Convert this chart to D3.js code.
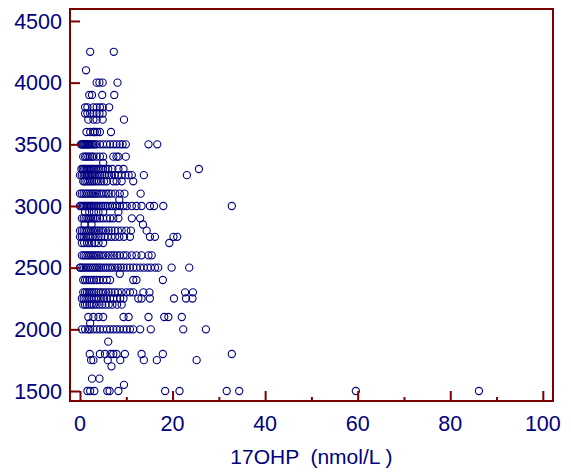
<!DOCTYPE html>
<html>
<head>
<meta charset="utf-8">
<script src="https://cdn.jsdelivr.net/npm/d3@7"></script>
<style>
  body { margin: 0; background: #fff; }
  svg { display: block; }
  text { font-family: "Liberation Sans", Arial, sans-serif; }
</style>
</head>
<body>
<div id="chart"></div>
<script>
let width = 571;
let height = 473;
let frame = ({top: 9, right: 553, bottom: 401, left: 70});
let axisColor = "#7a0000";
let inkColor = "#000080";

// birth weight levels (g) and the 17OHP readings (nmol/L) found on each level
let weights = [4250, 4100, 4000, 3900, 3800, 3750, 3700, 3600, 3500, 3400,
    3350, 3300, 3250, 3200, 3100, 3050, 3000, 2950, 2900, 2850,
    2800, 2750, 2700, 2600, 2500, 2450, 2400, 2300, 2250, 2200,
    2100, 2050, 2000, 1900, 1800, 1750, 1700, 1600, 1550, 1500];

let ohp = [
    [2.2, 7.3],
    [1.3],
    [3.6, 4.2, 4.9, 8.1],
    [2.0, 2.6, 4.8, 7.4],
    [1.1, 1.6, 2.9, 3.6, 4.3, 4.9, 6.3],
    [1.1, 1.6, 2.2, 2.9, 3.6, 4.2, 4.9],
    [1.8, 2.9, 3.6, 4.9, 9.5],
    [1.4, 2.2, 2.9, 3.2, 3.7, 4.3, 6.7],
    [0.2, 0.4, 0.6, 0.8, 1.0, 1.2, 1.4, 1.6, 1.8, 2.0, 2.3, 2.6, 2.9, 3.2, 3.6, 4.3, 5.0, 5.8, 6.5, 7.2, 7.9, 8.6, 9.2, 9.9, 14.8, 16.7],
    [0.7, 1.1, 1.4, 1.8, 2.2, 2.6, 2.9, 3.6, 4.3, 5.0, 7.2, 7.9, 8.3, 9.9],
    [5.0],
    [0.3, 0.6, 0.9, 1.2, 1.5, 1.8, 2.1, 2.4, 2.7, 3.0, 3.4, 3.8, 4.2, 4.6, 5.0, 5.5, 6.1, 7.0, 8.3, 9.4, 25.7],
    [0, 0.4, 0.8, 1.1, 1.4, 1.7, 2.0, 2.3, 2.6, 2.9, 3.2, 3.6, 4.0, 4.4, 4.8, 5.3, 5.8, 6.3, 6.9, 7.5, 8.2, 9.0, 9.8, 10.5, 11.2, 13.8, 23.1],
    [0.7, 1.0, 1.4, 1.8, 2.2, 2.6, 3.0, 3.5, 4.0, 4.6, 5.2, 5.8, 7.2, 7.9, 9.0, 11.5],
    [0, 0.4, 0.8, 1.2, 1.6, 2.0, 2.4, 2.8, 3.2, 3.6, 4.1, 4.6, 5.1, 5.7, 6.2, 6.8, 7.6, 8.6, 9.6, 13.1],
    [8.5],
    [0, 0.3, 0.6, 0.9, 1.2, 1.5, 1.8, 2.1, 2.4, 2.7, 3.0, 3.4, 3.8, 4.2, 4.6, 5.0, 5.5, 6.0, 6.5, 7.0, 7.6, 8.0, 8.6, 9.4, 10.1, 11.2, 12.2, 13.3, 15.1, 16.0, 18.0, 32.8],
    [1.1, 2.0, 3.0, 4.0, 5.0, 8.3],
    [0.4, 0.8, 1.2, 1.6, 2.0, 2.4, 2.8, 3.2, 3.7, 4.3, 5.0, 5.8, 6.5, 7.2, 8.3, 11.2, 13.0],
    [1.0, 2.5, 13.6],
    [0, 0.4, 0.8, 1.2, 1.6, 2.0, 2.4, 2.8, 3.2, 3.6, 4.0, 4.5, 5.0, 5.6, 6.2, 6.8, 7.5, 8.2, 9.0, 10.0, 11.0, 14.4],
    [0, 0.4, 0.8, 1.2, 1.7, 2.2, 2.8, 3.4, 4.0, 4.6, 5.3, 6.0, 6.8, 7.6, 8.5, 9.5, 10.8, 15.1, 16.2, 20.2, 21.0],
    [0.4, 0.9, 1.5, 2.0, 2.6, 3.2, 4.0, 5.0, 19.3],
    [0.4, 0.8, 1.2, 1.6, 2.0, 2.4, 2.8, 3.2, 3.6, 4.0, 4.5, 5.0, 5.6, 6.2, 6.8, 7.4, 8.0, 8.6, 9.4, 10.1, 11.2, 12.2, 13.3, 14.8, 15.5],
    [0, 0.1, 0.5, 0.9, 1.3, 1.7, 2.1, 2.5, 2.9, 3.3, 3.7, 4.1, 4.5, 5.0, 5.5, 6.0, 6.5, 7.0, 7.6, 8.2, 8.8, 9.4, 10.1, 10.8, 11.5, 12.2, 13.0, 13.8, 14.6, 15.3, 16.2, 16.9, 19.8, 23.6],
    [8.6],
    [0.7, 1.1, 1.5, 2.0, 2.5, 3.0, 3.6, 4.2, 5.0, 5.8, 6.5, 11.5, 12.2, 17.9],
    [0.7, 1.1, 1.5, 1.9, 2.3, 2.7, 3.1, 3.5, 4.0, 4.5, 5.0, 5.6, 6.2, 6.8, 7.5, 8.2, 9.0, 10.0, 10.8, 11.5, 13.7, 15.0, 22.7, 24.4],
    [0.4, 0.8, 1.2, 1.6, 2.0, 2.5, 3.0, 3.5, 4.0, 4.6, 5.2, 5.8, 6.5, 7.2, 8.0, 8.7, 9.4, 12.6, 13.3, 15.1, 20.3, 22.9, 24.3],
    [0.7, 1.1, 1.5, 2.0, 2.5, 3.0, 3.6, 4.2, 4.8, 5.5, 6.2, 7.0, 8.0, 9.0],
    [1.8, 2.9, 4.0, 5.0, 9.4, 10.5, 14.8, 18.2, 19.1, 22.0],
    [2.2],
    [0.4, 1.1, 1.8, 2.2, 2.9, 3.6, 4.3, 5.0, 5.8, 6.5, 7.2, 7.9, 8.6, 9.4, 10.1, 10.8, 11.5, 13.0, 15.3, 22.3, 27.2],
    [6.1],
    [2.1, 4.3, 5.4, 6.6, 7.2, 7.9, 9.7, 13.3, 17.9, 32.8],
    [2.4, 2.9, 6.0, 8.7, 13.8, 16.6, 25.2],
    [6.8],
    [2.6, 4.2],
    [9.5],
    [1.6, 2.2, 3.1, 5.9, 6.4, 8.3, 18.4, 21.5, 31.7, 34.4, 59.6, 86.2]
];

let xTicks = [0, 20, 40, 60, 80, 100];
let xMinorTicks = [10, 30, 50, 70, 90];
let yTicks = [1500, 2000, 2500, 3000, 3500, 4000, 4500];
let xTitle = "17OHP  (nmol/L )";

let points = weights.flatMap((w, i) => ohp[i].map(v => ({ohp: v, weight: w})));

let x = d3.scaleLinear()
    .domain([-2.16, 102.2])
    .range([frame.left, frame.right]);
let y = d3.scaleLinear()
    .domain([1419, 4597])
    .range([frame.bottom, frame.top]);

let svg = d3.select("#chart")
    .append("svg")
    .attr("width", width)
    .attr("height", height)
    .attr("viewBox", [0, 0, width, height]);

svg.append("rect")
    .attr("width", width).attr("height", height)
    .attr("fill", "#fff");

// points first, the frame goes on top
svg.append("g")
    .attr("fill", "none")
    .attr("stroke", inkColor)
    .attr("stroke-width", 1.1)
    .selectAll("circle")
    .data(points)
    .join("circle")
    .attr("cx", d => x(d.ohp))
    .attr("cy", d => y(d.weight))
    .attr("r", 3.6);

// inward ticks
let yAxis = g => g
    .attr("transform", `translate(${frame.left},0)`)
    .call(d3.axisRight(y).tickValues(yTicks).tickSize(10).tickFormat(""))
    .call(g => g.select(".domain").remove())
    .call(g => g.selectAll("line").attr("stroke", axisColor).attr("stroke-width", 2));

let xAxis = g => g
    .attr("transform", `translate(0,${frame.bottom})`)
    .call(d3.axisTop(x).tickValues(xTicks).tickSize(10).tickFormat(""))
    .call(g => g.select(".domain").remove())
    .call(g => g.selectAll("line").attr("stroke", axisColor).attr("stroke-width", 2));

let xMinor = g => g
    .attr("transform", `translate(0,${frame.bottom})`)
    .call(d3.axisTop(x).tickValues(xMinorTicks).tickSize(4).tickFormat(""))
    .call(g => g.select(".domain").remove())
    .call(g => g.selectAll("line").attr("stroke", axisColor).attr("stroke-width", 2));

svg.append("g").call(yAxis);
svg.append("g").call(xAxis);
svg.append("g").call(xMinor);

svg.append("rect")
    .attr("x", frame.left)
    .attr("y", frame.top)
    .attr("width", frame.right - frame.left)
    .attr("height", frame.bottom - frame.top)
    .attr("fill", "none")
    .attr("stroke", axisColor)
    .attr("stroke-width", 2);

// labels
svg.append("g")
    .attr("fill", inkColor)
    .attr("font-size", 21.5)
    .attr("text-anchor", "end")
    .selectAll("text")
    .data(yTicks)
    .join("text")
    .attr("x", frame.left - 8)
    .attr("y", d => y(d))
    .attr("dy", "0.36em")
    .text(d => d);

svg.append("g")
    .attr("fill", inkColor)
    .attr("font-size", 21.5)
    .attr("text-anchor", "middle")
    .selectAll("text")
    .data(xTicks)
    .join("text")
    .attr("x", d => x(d))
    .attr("y", 431)
    .text(d => d);

svg.append("text")
    .attr("x", x(50))
    .attr("y", 464)
    .attr("fill", inkColor)
    .attr("font-size", 21)
    .attr("text-anchor", "middle")
    .style("white-space", "pre")
    .text(xTitle);
</script>
</body>
</html>
